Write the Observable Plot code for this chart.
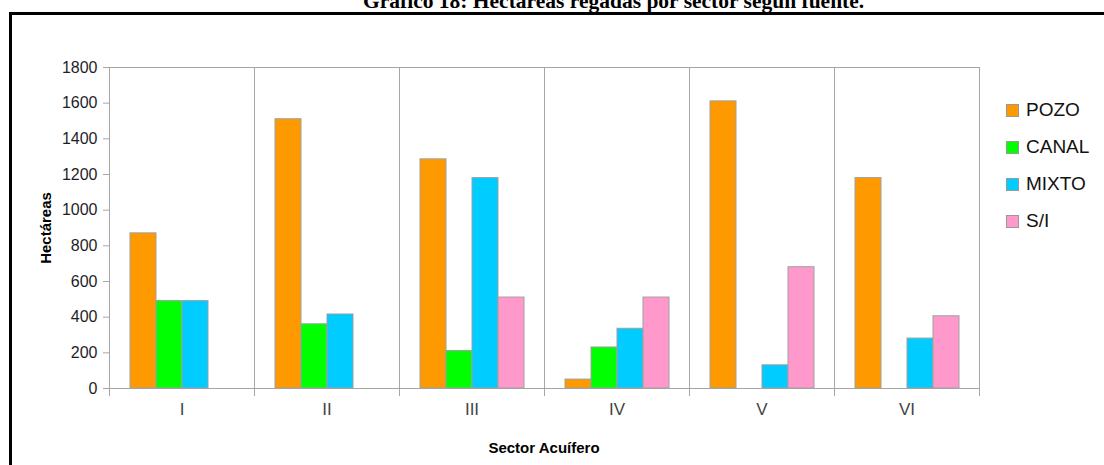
<!DOCTYPE html>
<html>
<head>
<meta charset="utf-8">
<script src="https://cdn.jsdelivr.net/npm/d3@7"></script>
<script src="https://cdn.jsdelivr.net/npm/@observablehq/plot@0.6"></script>
<style>
  html, body { margin: 0; padding: 0; background: #fff; }
  #wrap { position: relative; width: 1104px; height: 465px; overflow: hidden; font-family: "Liberation Sans", Arial, sans-serif; }
  #box { position: absolute; left: 9px; top: 12px; width: 1200px; height: 600px; border-left: 3px solid #000; border-top: 3px solid #000; box-sizing: border-box; }
  #title { position: absolute; left: 363px; top: -9px; font: bold 21.5px/21px "Liberation Serif", "Times New Roman", serif; white-space: nowrap; color: #000; }
  #chart { position: absolute; left: 0; top: 0; }
  .ytitle { position: absolute; left: 45px; top: 228px; transform: translate(-50%, -50%) rotate(-90deg); font: bold 15px "Liberation Sans", Arial, sans-serif; white-space: nowrap; color: #000; }
  .xtitle { position: absolute; left: 544px; top: 447px; transform: translate(-50%, -50%); font: bold 15px "Liberation Sans", Arial, sans-serif; white-space: nowrap; color: #000; }
  #legend { position: absolute; left: 1006px; top: 92px; }
  .item { position: relative; height: 37px; }
  .sw { position: absolute; left: 0; top: 12px; width: 13px; height: 13px; box-sizing: border-box; border: 1px solid #999; }
  .lab { position: absolute; left: 20px; top: 7px; font: 19px/22px "Liberation Sans", Arial, sans-serif; color: #111; white-space: nowrap; }
</style>
</head>
<body>
<div id="wrap">
  <div id="box"></div>
  <div id="title">Gráfico 18: Hectáreas regadas por sector según fuente.</div>
  <div id="chart"></div>
  <div class="ytitle">Hectáreas</div>
  <div class="xtitle">Sector Acuífero</div>
  <div id="legend"></div>
</div>
<script>
const sectors = ["I", "II", "III", "IV", "V", "VI"];
const series = ["POZO", "CANAL", "MIXTO", "S/I"];
const pozo  = [870, 1510, 1285, 50, 1610, 1180];
const canal = [490, 360, 210, 230, 0, 0];
const mixto = [490, 415, 1180, 335, 130, 280];
const si    = [0, 0, 510, 510, 680, 405];
const colors = ["#FF9900", "#00FF00", "#00CCFF", "#FF99CC"];
const yTicks = [0, 200, 400, 600, 800, 1000, 1200, 1400, 1600, 1800];

const seriesValues = [pozo, canal, mixto, si];
const data = [];
sectors.forEach((s, i) => {
  series.forEach((k, j) => {
    const v = seriesValues[j][i];
    if (v > 0) data.push({sector: s, series: k, value: v});
  });
});

const gray = "#a6a6a6";
const chart = Plot.plot({
  width: 1104,
  height: 465,
  marginLeft: 107,
  marginRight: 123,
  marginTop: 67,
  marginBottom: 77,
  style: {fontFamily: "'Liberation Sans', Arial, sans-serif", background: "transparent", overflow: "visible"},
  fx: {domain: sectors, padding: 0, label: null},
  x: {domain: series, paddingInner: 0, paddingOuter: 0.76, axis: null},
  y: {domain: [0, 1800], axis: null},
  color: {domain: series, range: colors},
  marks: [
    Plot.frame({stroke: gray}),
    Plot.frame({anchor: "left", stroke: gray, insetBottom: -7}),
    Plot.frame({anchor: "right", stroke: gray, insetBottom: -7}),
    Plot.barY(data, {fx: "sector", x: "series", y: "value", fill: "series", stroke: "#a0a0a0", strokeWidth: 1}),
    Plot.axisY({ticks: yTicks, tickSize: 6, tickPadding: 6, fontSize: 16, stroke: gray, fill: "#1e1e2a", label: null, tickFormat: d => String(d)}),
    Plot.axisFx({anchor: "bottom", tickSize: 0, tickPadding: 14, fontSize: 17, fill: "#444", label: null})
  ]
});
document.getElementById("chart").appendChild(chart);

const legend = document.getElementById("legend");
series.forEach((k, j) => {
  const item = document.createElement("div");
  item.className = "item";
  const sw = document.createElement("div");
  sw.className = "sw";
  sw.style.background = colors[j];
  const lab = document.createElement("div");
  lab.className = "lab";
  lab.textContent = k;
  item.appendChild(sw);
  item.appendChild(lab);
  legend.appendChild(item);
});
</script>
</body>
</html>
